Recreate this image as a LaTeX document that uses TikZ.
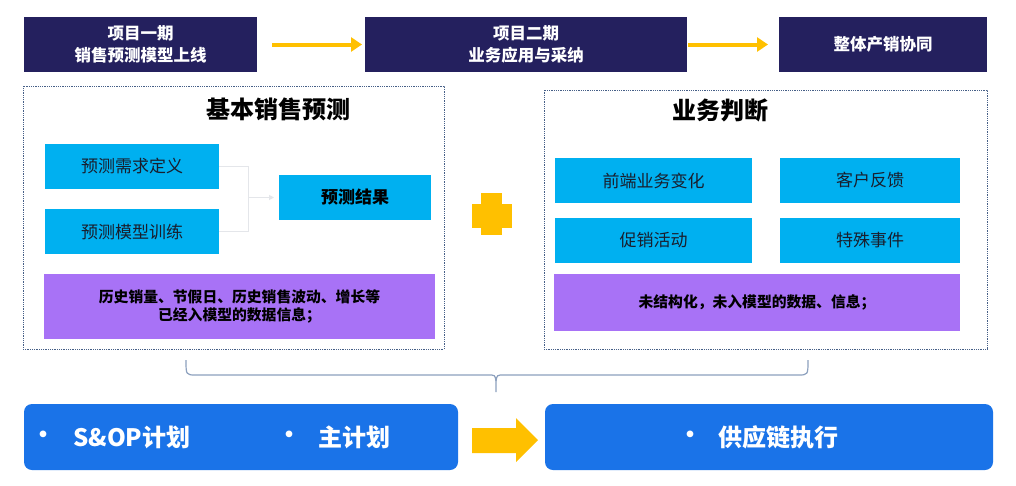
\documentclass[tikz,border=0pt]{standalone}
\usepackage{fontspec}
\setmainfont{Noto Sans CJK SC}
\usetikzlibrary{arrows.meta}
\definecolor{navy}{RGB}{36,32,94}
\definecolor{ygold}{RGB}{255,192,0}
\definecolor{cyanbox}{RGB}{0,176,240}
\definecolor{purplebox}{RGB}{168,114,246}
\definecolor{bluebox}{RGB}{26,115,232}
\definecolor{panelline}{RGB}{70,95,135}
\definecolor{braceline}{RGB}{140,160,190}
\definecolor{faintline}{RGB}{228,230,234}
\definecolor{darktext}{RGB}{25,30,45}
\tikzset{
  phasebox/.style={fill=navy, text=white, inner sep=0pt, outer sep=0pt, align=center,
    font=\fontsize{16.5}{22}\selectfont\bfseries},
  yarrow/.style={draw=ygold, line width=4pt, -{Triangle[length=11pt,width=14pt]}},
  panel/.style={draw=panelline, densely dotted, line width=0.8pt, inner sep=0pt, outer sep=0pt},
  paneltitle/.style={font=\fontsize{24}{28}\selectfont\bfseries, text=black, inner sep=0pt},
  itembox/.style={fill=cyanbox, text=darktext, inner sep=0pt, outer sep=0pt,
    font=\fontsize{17}{20}\selectfont},
  databox/.style={fill=purplebox, text=black, inner sep=0pt, outer sep=0pt, align=center,
    font=\fontsize{14.8}{18}\selectfont\bfseries},
  faint/.style={draw=faintline, line width=1pt},
  bracestyle/.style={draw=braceline, line width=1.2pt},
  planbox/.style={fill=bluebox, rounded corners=8pt, inner sep=0pt, outer sep=0pt},
  plantext/.style={text=white, inner sep=0pt, font=\fontsize{24}{28}\selectfont\bfseries},
}
\begin{document}
\begin{tikzpicture}[x=1pt, y=-1pt]
\useasboundingbox[fill=white] (0,0) rectangle (1016,485);

% top phase boxes
\node[phasebox, minimum width=233pt, minimum height=55pt] (t1) at (140.5,44.5) {项目一期\\销售预测模型上线};
\node[phasebox, minimum width=322pt, minimum height=55pt] (t2) at (526,44.5) {项目二期\\业务应用与采纳};
\node[phasebox, minimum width=208pt, minimum height=55pt] (t3) at (883,44.5) {整体产销协同};
\draw[yarrow] ([xshift=15pt]t1.east) -- ([xshift=-3pt]t2.west);
\draw[yarrow] ([xshift=1pt]t2.east) -- ([xshift=-11pt]t3.west);

% left panel
\node[panel, minimum width=421pt, minimum height=263pt] (panelL) at (233.5,217.5) {};
\node[paneltitle] (titleL) at (278,109) {基本销售预测};
\node[itembox, minimum width=174pt, minimum height=45pt] (d1) at (132,166.5) {预测需求定义};
\node[itembox, minimum width=174pt, minimum height=45pt] (d2) at (132,231.5) {预测模型训练};
\node[itembox, minimum width=152pt, minimum height=45pt, font=\fontsize{17}{20}\selectfont\bfseries, text=black] (res) at (355,197.5) {预测结果};
\coordinate (j) at (248,197.5);
\draw[faint] (d1.east) -| (j);
\draw[faint] (d2.east) -| (j);
\draw[faint, -{Triangle[length=5pt,width=5pt]}, shorten >=5pt] (j) -- (res.west);
\node[databox, minimum width=391pt, minimum height=65pt] (pL) at (239.5,306.5) {历史销量、节假日、历史销售波动、增长等\\已经入模型的数据信息；};

% plus sign
\fill[ygold] (472,204) rectangle (512,228);
\fill[ygold] (481,193) rectangle (502,235);

% right panel
\node[panel, minimum width=443pt, minimum height=259pt] (panelR) at (765.5,219.5) {};
\node[paneltitle] (titleR) at (720,110) {业务判断};
\node[itembox, minimum width=197pt, minimum height=45pt] (r1) at (653.5,180.5) {前端业务变化};
\node[itembox, minimum width=180pt, minimum height=45pt] (r2) at (870,180.5) {客户反馈};
\node[itembox, minimum width=197pt, minimum height=45pt] (r3) at (653.5,240.5) {促销活动};
\node[itembox, minimum width=180pt, minimum height=45pt] (r4) at (870,240.5) {特殊事件};
\node[databox, minimum width=406pt, minimum height=57pt] (pR) at (757,302.5) {未结构化，未入模型的数据、信息；};

% brace
\coordinate (bl) at (186,360);
\coordinate (br) at (808,360);
\coordinate (tip) at (496,392);
\coordinate (bm) at (496,381);
\draw[bracestyle] (bl) .. controls (186,375) .. (196,375) -- (488,375) .. controls (495,375) .. (bm) -- (tip);
\draw[bracestyle] (br) .. controls (808,375) .. (798,375) -- (504,375) .. controls (497,375) .. (bm);

% bottom plan boxes
\node[planbox, minimum width=434pt, minimum height=66pt] (b1) at (241,437) {};
\node[plantext] (b1a) at (43,437) {•};
\node[plantext, anchor=west] (b1b) at (73,437) {S\&OP计划};
\node[plantext] (b1c) at (289,437) {•};
\node[plantext, anchor=west] (b1d) at (318,437) {主计划};
\node[planbox, minimum width=448pt, minimum height=66pt] (b2) at (769,437) {};
\node[plantext] (b2a) at (690,437) {•};
\node[plantext, anchor=west] (b2b) at (718,437) {供应链执行};
\fill[ygold] (472,428) -- (516,428) -- (516,418) -- (538,440) -- (516,462) -- (516,453) -- (472,453) -- cycle;
\end{tikzpicture}
\end{document}
